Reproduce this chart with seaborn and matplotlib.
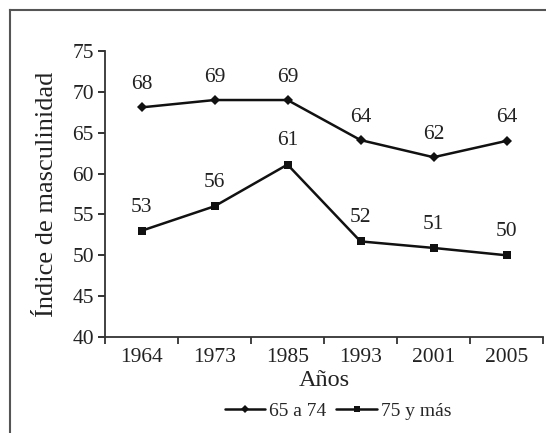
import matplotlib
matplotlib.use("Agg")
import matplotlib.pyplot as plt
from matplotlib.lines import Line2D
from matplotlib.ticker import FixedLocator
import seaborn as sns
import pandas as pd

years = ["1964", "1973", "1985", "1993", "2001", "2005"]
serie_65_74 = [68.1, 69.0, 69.0, 64.1, 62.0, 64.0]
serie_75_mas = [53.0, 56.0, 61.1, 51.7, 50.9, 50.0]
labels_65_74 = ["68", "69", "69", "64", "62", "64"]
labels_75_mas = ["53", "56", "61", "52", "51", "50"]
series_names = ["65 a 74", "75 y más"]

sns.set_theme(style="white")
plt.rcParams["font.family"] = ["Liberation Serif", "DejaVu Serif"]

df = pd.DataFrame({
    "Año": years * 2,
    "valor": serie_65_74 + serie_75_mas,
    "serie": [series_names[0]] * len(years) + [series_names[1]] * len(years),
})

fig = plt.figure(figsize=(5.46, 4.33), dpi=100)
ax = fig.add_axes([105 / 546, 1 - 337 / 433, (543 - 105) / 546, (337 - 51) / 433])

sns.lineplot(data=df, x="Año", y="valor", hue="serie", style="serie",
             markers={series_names[0]: "D", series_names[1]: "s"},
             dashes=False, palette={series_names[0]: "#111111", series_names[1]: "#111111"},
             markersize=5.5, linewidth=1.8, markeredgewidth=0, ax=ax, legend=True, sort=False)

for i, (v, t) in enumerate(zip(serie_65_74, labels_65_74)):
    ax.annotate(t, (i, v), xytext=(0, 16.5), textcoords="offset points",
                ha="center", va="center", fontsize=15.5, color="#222222")
for i, (v, t) in enumerate(zip(serie_75_mas, labels_75_mas)):
    ax.annotate(t, (i, v), xytext=(0, 17), textcoords="offset points",
                ha="center", va="center", fontsize=15.5, color="#222222")

ax.set_ylim(40, 75)
ax.set_xlim(-0.5, 5.5)
ax.set_yticks([40, 45, 50, 55, 60, 65, 70, 75])
ax.set_xticks(range(len(years)))
ax.set_xticklabels(years)
ax.xaxis.set_minor_locator(FixedLocator([i - 0.5 for i in range(len(years) + 1)]))
ax.tick_params(axis="x", which="major", length=0, labelsize=15.5, pad=8, colors="#222222")
ax.tick_params(axis="x", which="minor", length=5, width=1.3, direction="out",
               color="#333333", bottom=True)
ax.tick_params(axis="y", length=5, width=1.3, direction="out", labelsize=15.5, pad=3,
               colors="#222222", left=True)
for s in ["top", "right"]:
    ax.spines[s].set_visible(False)
for s in ["left", "bottom"]:
    ax.spines[s].set_color("#333333")
    ax.spines[s].set_linewidth(1.3)

ax.set_xlabel("Años", fontsize=17.5, color="#222222", labelpad=2)
ax.set_ylabel("Índice de masculinidad", fontsize=19, color="#222222", labelpad=10)
ax.set_facecolor("white")

handles, lbls = ax.get_legend_handles_labels()
ax.get_legend().remove()
fig.legend(handles, lbls, loc="center", bbox_to_anchor=(338 / 546, 1 - 411 / 433),
           ncol=2, frameon=False, fontsize=14, handlelength=2.1, handletextpad=0.2,
           columnspacing=0.5, markerscale=0.8)

x0 = 9.5 / 546
y0 = 1 - 9.5 / 433
fig.add_artist(Line2D([x0, x0], [0, y0], transform=fig.transFigure,
                      color="#555555", linewidth=1.5, solid_capstyle="projecting"))
fig.add_artist(Line2D([x0, 1], [y0, y0], transform=fig.transFigure,
                      color="#555555", linewidth=1.5, solid_capstyle="projecting"))

fig.savefig("out.png", dpi=100)
